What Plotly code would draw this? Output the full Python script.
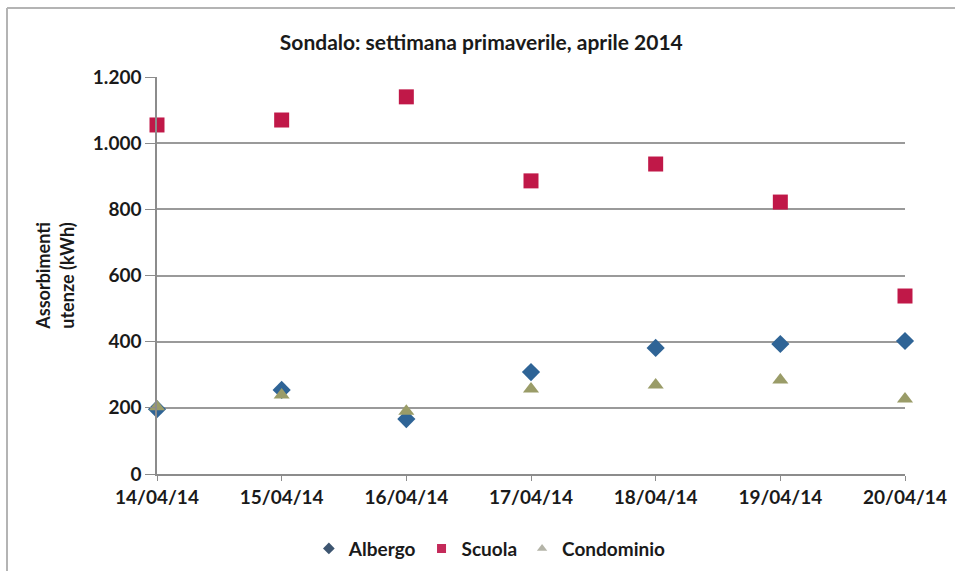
import plotly.graph_objects as go

# Daily readings, Sondalo, spring week of April 2014
dates = ["14/04/14", "15/04/14", "16/04/14", "17/04/14", "18/04/14", "19/04/14", "20/04/14"]
albergo = [196, 254, 166, 308, 381, 393, 402]
scuola = [1055, 1070, 1140, 886, 937, 822, 538]
condominio = [203, 239, 190, 257, 269, 284, 227]

y_ticks = [0, 200, 400, 600, 800, 1000, 1200]
y_tick_labels = ["0", "200", "400", "600", "800", "1.000", "1.200"]

FONT = "Lato"
TXT = "#1a1a1a"
x_pos = list(range(len(dates)))

series = [
    ("Albergo", albergo, "diamond", 14, "#2f6496", "#3d5570"),
    ("Scuola", scuola, "square", 15, "#c01848", "#c42a5a"),
    ("Condominio", condominio, "triangle-up", 14, "#9a9c68", "#b4b4a8"),
]

fig = go.Figure()
for name, vals, sym, size, col, _ in series:
    fig.add_trace(go.Scatter(
        x=x_pos, y=vals, name=name, mode="markers", cliponaxis=False,
        showlegend=False,
        marker=dict(symbol=sym, size=size, color=col),
    ))
# small legend swatches
for name, _, sym, _, _, lcol in series:
    fig.add_trace(go.Scatter(
        x=[None], y=[None], name="<b>%s</b>" % name, mode="markers",
        marker=dict(symbol=sym, size=9, color=lcol),
    ))

fig.update_layout(
    width=955, height=571,
    margin=dict(l=157, r=50, t=77, b=97, autoexpand=False),
    paper_bgcolor="white", plot_bgcolor="white",
    font=dict(family=FONT, size=19, color=TXT),
    title=dict(text="<b>Sondalo: settimana primaverile, aprile 2014</b>",
               x=0.504, xanchor="center", y=0.925, yanchor="middle",
               font=dict(family=FONT, size=21, color=TXT)),
    showlegend=True,
    legend=dict(orientation="h", x=0.445, xanchor="center", y=-0.14, yanchor="top",
                font=dict(family=FONT, size=19, color=TXT),
                itemwidth=30, traceorder="normal", tracegroupgap=0),
    xaxis=dict(
        range=[0, 6], tickmode="array", tickvals=x_pos,
        ticktext=["<b>%s</b>" % d for d in dates],
        showgrid=False, zeroline=False, automargin=False,
        showline=True, linecolor="#8c8c8c", linewidth=1.5,
        ticks="outside", ticklen=5, tickcolor="#8c8c8c",
        tickfont=dict(family=FONT, size=19, color=TXT),
    ),
    yaxis=dict(
        range=[0, 1200], tickmode="array", tickvals=y_ticks,
        ticktext=["<b>%s</b>" % t for t in y_tick_labels],
        showgrid=True, gridcolor="#9a9a9a", gridwidth=1.5, zeroline=False,
        automargin=False,
        showline=True, linecolor="#8c8c8c", linewidth=1.5,
        ticks="outside", ticklen=10, tickcolor="#8c8c8c",
        tickfont=dict(family=FONT, size=19, color=TXT),
        title=dict(text="<b>Assorbimenti<br>utenze (kWh)</b>", standoff=14,
                   font=dict(family=FONT, size=18, color=TXT)),
    ),
)

# Chart frame: top and left edges of the outer box
W, H = 955, 571
pw, ph = W - 157 - 50, H - 77 - 97
def px(x):
    return (x - 157) / pw
def py(y):
    return (H - 97 - y) / ph
fig.add_shape(type="line", xref="paper", yref="paper",
              x0=px(7), x1=px(955), y0=py(8), y1=py(8),
              line=dict(color="#b4b4b4", width=2))
fig.add_shape(type="line", xref="paper", yref="paper",
              x0=px(7), x1=px(7), y0=py(8), y1=py(571),
              line=dict(color="#b4b4b4", width=2))

fig.write_html("out.html")
